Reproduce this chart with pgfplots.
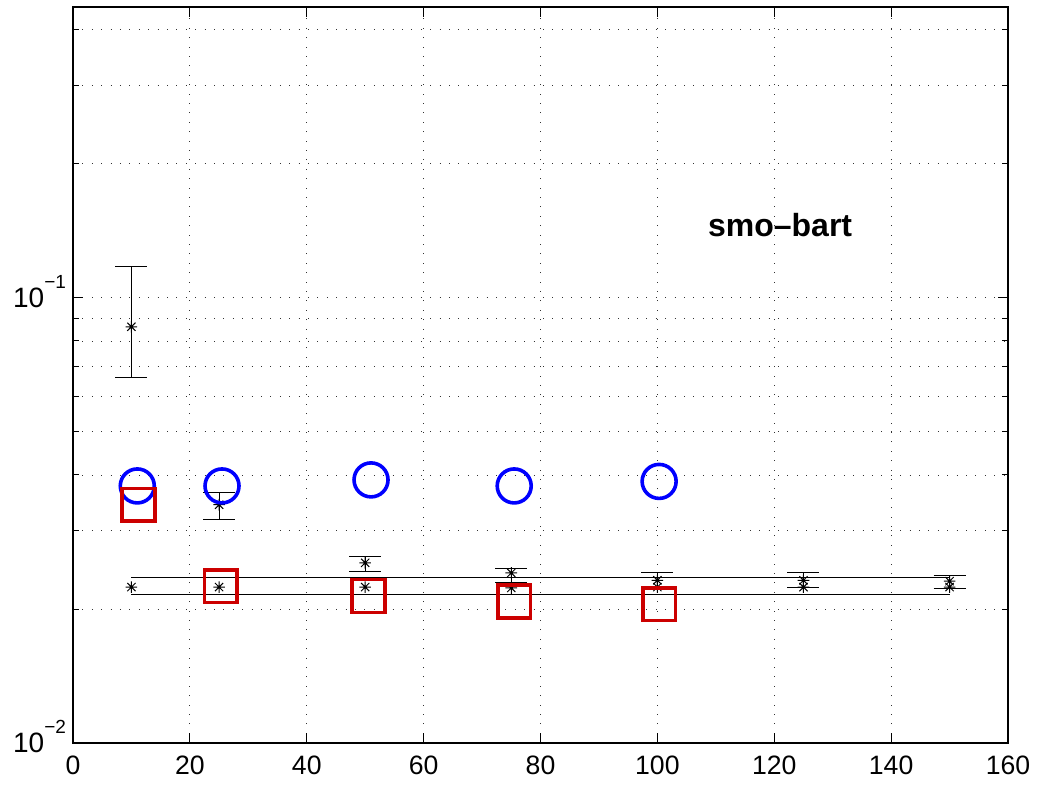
\documentclass[border=0pt]{standalone}
\usepackage{fontspec}
\setmainfont{Liberation Sans}
\usepackage{pgfplots}
\pgfplotsset{compat=1.18}
\pgfdeclareplotmark{mstar}{%
  \pgfpathmoveto{\pgfqpoint{0pt}{\pgfplotmarksize}}\pgfpathlineto{\pgfqpoint{0pt}{-\pgfplotmarksize}}%
  \pgfpathmoveto{\pgfqpoint{\pgfplotmarksize}{0pt}}\pgfpathlineto{\pgfqpoint{-\pgfplotmarksize}{0pt}}%
  \pgfpathmoveto{\pgfqpoint{0.707\pgfplotmarksize}{0.707\pgfplotmarksize}}\pgfpathlineto{\pgfqpoint{-0.707\pgfplotmarksize}{-0.707\pgfplotmarksize}}%
  \pgfpathmoveto{\pgfqpoint{0.707\pgfplotmarksize}{-0.707\pgfplotmarksize}}\pgfpathlineto{\pgfqpoint{-0.707\pgfplotmarksize}{0.707\pgfplotmarksize}}%
  \pgfusepathqstroke}
\pgfdeclareplotmark{hbar}{%
  \pgfpathmoveto{\pgfqpoint{-\pgfplotmarksize}{0pt}}\pgfpathlineto{\pgfqpoint{\pgfplotmarksize}{0pt}}%
  \pgfusepathqstroke}
\definecolor{mred}{rgb}{0.8,0,0}
\definecolor{mblue}{rgb}{0,0,1}

% main series: mean, lower, upper
\pgfplotstableread{
x y lo hi
10 0.0861 0.0664 0.1174
25 0.0343 0.0317 0.0366
50 0.0254 0.0243 0.0262
75 0.0241 0.0229 0.0247
100 0.0232 0.0223 0.0241
125 0.0232 0.0224 0.0241
150 0.0231 0.0222 0.0238
}\mainerr

% error bar segments (lo, hi, break)
\pgfplotstableread{
x y
10 0.0664
10 0.1174
10 nan
25 0.0317
25 0.0366
25 nan
50 0.0243
50 0.0262
50 nan
75 0.0229
75 0.0247
75 nan
100 0.0223
100 0.0241
100 nan
125 0.0224
125 0.0241
125 nan
150 0.0222
150 0.0238
}\errseg

\pgfplotstableread{
x y
10 0.0224
25 0.0224
50 0.0224
75 0.0223
100 0.0224
125 0.0224
150 0.0224
}\baseline

\pgfplotstableread{
x y
11 0.0378
25.5 0.0378
51 0.0390
75.5 0.0378
100.3 0.0387
}\circles

\pgfplotstableread{
x y
11.2 0.0343
25.3 0.0225
50.6 0.0214
75.5 0.0208
100.3 0.0205
}\squares

\begin{document}
\begin{tikzpicture}
\begin{axis}[
  at={(0,0)}, anchor=south west,
  scale only axis, width=467.5pt, height=368pt,
  xmin=0, xmax=160, ymode=log, ymin=0.01, ymax=0.45,
  xtick={0,20,...,160},
  ytick={0.01,0.1},
  yticklabels={{10\raisebox{9.3pt}{\fontsize{9.5}{9.5}\selectfont −2}},{10\raisebox{9.3pt}{\fontsize{9.5}{9.5}\selectfont −1}}},
  minor ytick={0.02,0.03,0.04,0.05,0.06,0.07,0.08,0.09,0.2,0.3,0.4},
  tick align=inside, tick pos=both,
  major tick length=5pt, minor tick length=3pt,
  xmajorgrids, ymajorgrids, yminorgrids,
  grid style={black!80, line width=0.45pt, dash pattern=on 0.45pt off 4.25pt},
  minor grid style={black!80, line width=0.45pt, dash pattern=on 0.45pt off 4.25pt},
  axis line style={line width=0.6pt},
  tick style={black, line width=0.5pt},
  /pgf/number format/assume math mode=true,
  xticklabel style={font=\fontsize{13.3}{16}\selectfont, yshift=-3.1pt},
  yticklabel style={font=\fontsize{14}{16}\selectfont, anchor=base east, yshift=-4.6pt},
  unbounded coords=jump,
  clip=false,
]
\addplot[black, line width=0.5pt, forget plot] coordinates {(10,0.0235) (150,0.0235)};
\addplot[black, line width=0.5pt, forget plot] coordinates {(10,0.0216) (150,0.0216)};
\addplot[black, line width=0.5pt, forget plot] table[x=x,y=y] {\errseg};
\addplot[only marks, mark=hbar, mark size=8pt, black, mark options={line width=0.5pt}, forget plot] table[x=x,y=lo] {\mainerr};
\addplot[only marks, mark=hbar, mark size=8pt, black, mark options={line width=0.5pt}, forget plot] table[x=x,y=hi] {\mainerr};
\addplot[only marks, mark=mstar, mark size=2.9pt, black, mark options={line width=0.5pt}] table[x=x,y=y] {\mainerr};
\addplot[only marks, mark=mstar, mark size=2.9pt, black, mark options={line width=0.5pt}] table[x=x,y=y] {\baseline};
\addplot[only marks, mark=o, mark size=8.5pt, mblue, mark options={line width=1.8pt}] table[x=x,y=y] {\circles};
\addplot[only marks, mark=square, mark size=8.2pt, mred, mark options={line width=1.8pt}] table[x=x,y=y] {\squares};
\node[font=\bfseries\fontsize{16}{19}\selectfont] at (axis cs:121,0.146) {smo–bart};
\end{axis}
\path (-36.5pt,-20.5pt) rectangle (482pt,371.5pt);
\end{tikzpicture}
\end{document}
